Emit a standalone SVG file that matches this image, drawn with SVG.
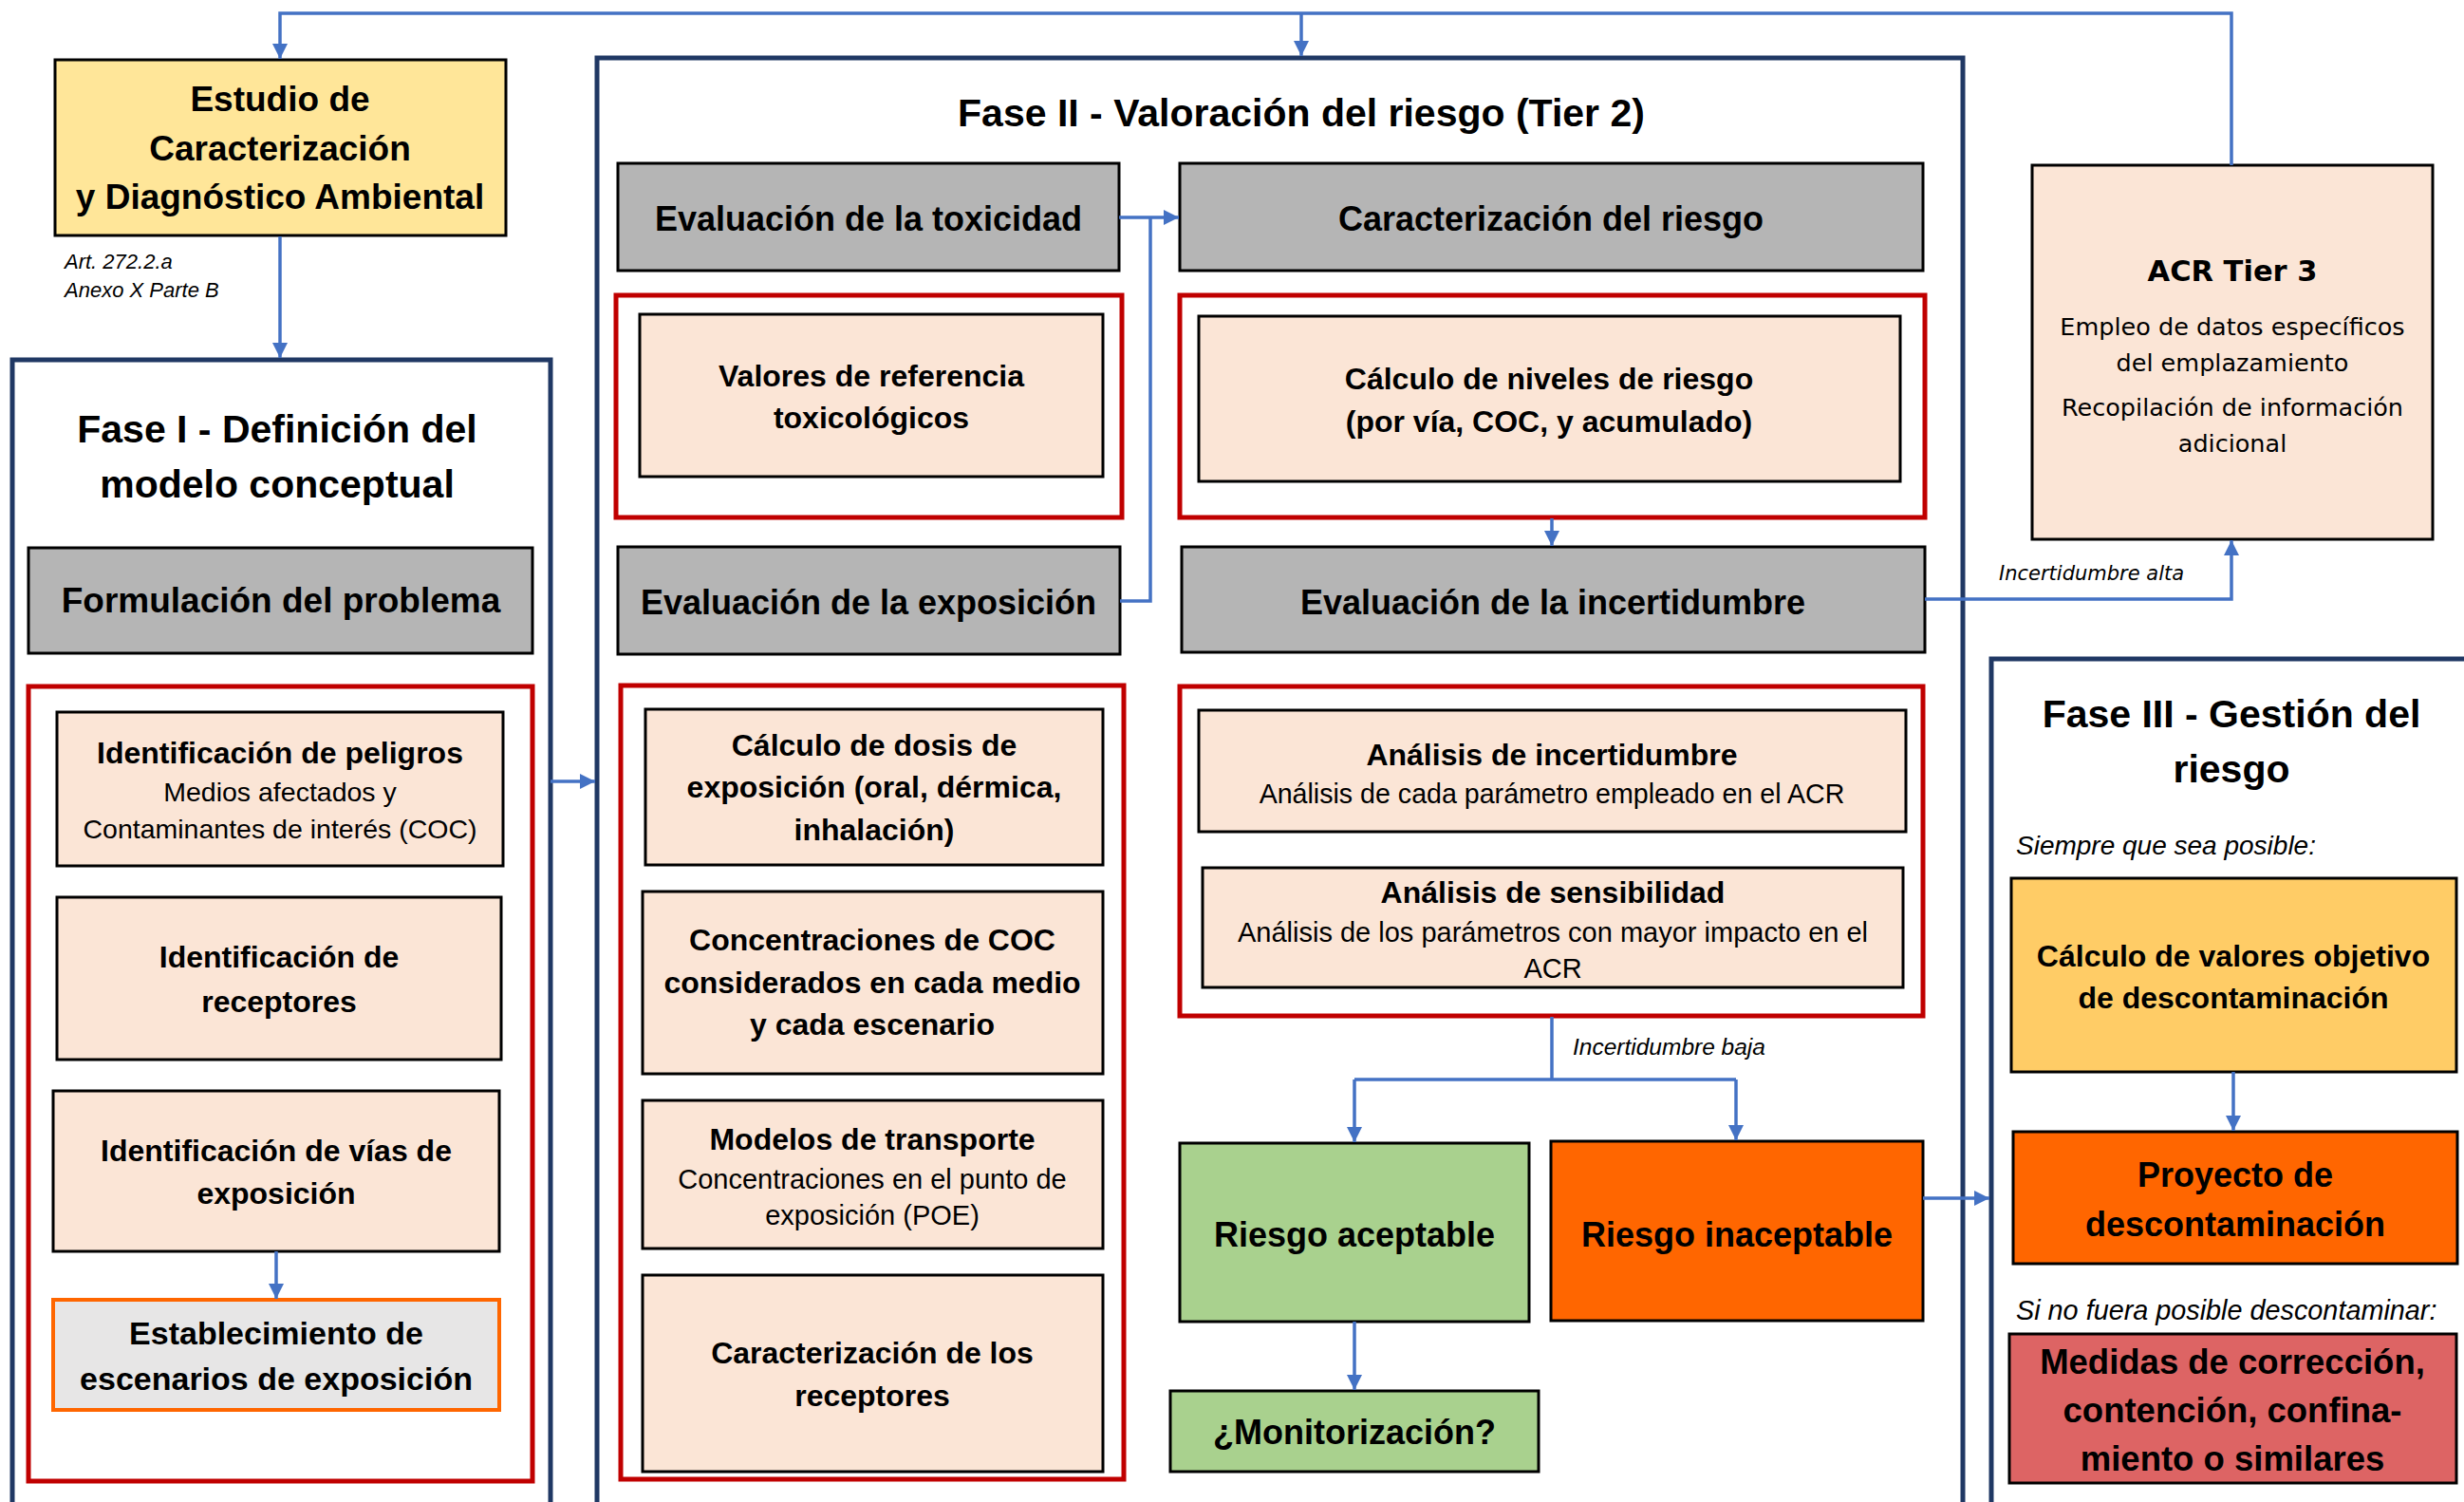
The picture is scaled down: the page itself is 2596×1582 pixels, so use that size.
<svg xmlns="http://www.w3.org/2000/svg" width="2596" height="1582" viewBox="0 0 2596 1582">
<defs>
<style>
.t{font-family:"Liberation Sans",Arial,sans-serif;fill:#000;text-anchor:middle}
.b{font-weight:bold}
.it{font-style:italic}
.v{font-family:"DejaVu Sans",Verdana,sans-serif;fill:#000;text-anchor:middle}
.s{text-anchor:start}
.phase{fill:none;stroke:#203864;stroke-width:5}
.red{fill:none;stroke:#C00000;stroke-width:5}
.box{stroke:#000;stroke-width:3}
.gray{fill:#B5B5B5}
.peach{fill:#FBE5D6}
.con{fill:none;stroke:#4472C4;stroke-width:3.5}
</style>
<marker id="ah" viewBox="0 0 10 10" refX="10" refY="5" markerWidth="16" markerHeight="16" markerUnits="userSpaceOnUse" orient="auto">
<path d="M0,0 L10,5 L0,10 z" fill="#4472C4"/>
</marker>
</defs>
<rect width="2596" height="1582" fill="#fff"/>

<!-- Estudio -->
<g id="estudio">
<rect class="box" x="58" y="63" width="475" height="185" fill="#FFE699"/>
<text class="t b" font-size="37" x="295" y="117">Estudio de</text>
<text class="t b" font-size="37" x="295" y="169">Caracterización</text>
<text class="t b" font-size="37" x="295" y="220">y Diagnóstico Ambiental</text>
</g>
<g id="art-note">
<text class="t it s" font-size="22" x="68" y="283">Art. 272.2.a</text>
<text class="t it s" font-size="22" x="68" y="313">Anexo X Parte B</text>
</g>

<!-- Fase I -->
<g id="fase1">
<rect class="phase" x="13" y="379" width="567" height="1260"/>
<text class="t b" font-size="41" x="292" y="466">Fase I - Definición del</text>
<text class="t b" font-size="41" x="292" y="524">modelo conceptual</text>
</g>
<g id="formulacion">
<rect class="box gray" x="30" y="577" width="531" height="111"/>
<text class="t b" font-size="37" x="296" y="645">Formulación del problema</text>
</g>
<g id="fase1-grupo">
<rect class="red" x="30" y="723" width="531" height="837"/>
</g>
<g id="id-peligros">
<rect class="box peach" x="60" y="750" width="470" height="162"/>
<text class="t b" font-size="32" x="295" y="804">Identificación de peligros</text>
<text class="t" font-size="28.5" x="295" y="844">Medios afectados y</text>
<text class="t" font-size="28.5" x="295" y="883">Contaminantes de interés (COC)</text>
</g>
<g id="id-receptores">
<rect class="box peach" x="60" y="945" width="468" height="171"/>
<text class="t b" font-size="32" x="294" y="1019">Identificación de</text>
<text class="t b" font-size="32" x="294" y="1066">receptores</text>
</g>
<g id="id-vias">
<rect class="box peach" x="56" y="1149" width="470" height="169"/>
<text class="t b" font-size="32" x="291" y="1223">Identificación de vías de</text>
<text class="t b" font-size="32" x="291" y="1268">exposición</text>
</g>
<g id="escenarios">
<rect x="56" y="1369" width="470" height="116" fill="#E7E6E6" stroke="#FF6600" stroke-width="4"/>
<text class="t b" font-size="34" x="291" y="1416">Establecimiento de</text>
<text class="t b" font-size="34" x="291" y="1464">escenarios de exposición</text>
</g>

<!-- Fase II -->
<g id="fase2">
<rect class="phase" x="629" y="61" width="1439" height="1580"/>
<text class="t b" font-size="41" x="1371" y="133">Fase II - Valoración del riesgo (Tier 2)</text>
</g>
<g id="eval-toxicidad">
<rect class="box gray" x="651" y="172" width="528" height="113"/>
<text class="t b" font-size="36" x="915" y="243">Evaluación de la toxicidad</text>
</g>
<g id="toxicidad-grupo">
<rect class="red" x="649" y="311" width="533" height="234"/>
</g>
<g id="valores-ref">
<rect class="box peach" x="674" y="331" width="488" height="171"/>
<text class="t b" font-size="32" x="918" y="407">Valores de referencia</text>
<text class="t b" font-size="32" x="918" y="451">toxicológicos</text>
</g>
<g id="eval-exposicion">
<rect class="box gray" x="651" y="576" width="529" height="113"/>
<text class="t b" font-size="36" x="915" y="647">Evaluación de la exposición</text>
</g>
<g id="exposicion-grupo">
<rect class="red" x="654" y="722" width="530" height="836"/>
</g>
<g id="calculo-dosis">
<rect class="box peach" x="680" y="747" width="482" height="164"/>
<text class="t b" font-size="32" x="921" y="796">Cálculo de dosis de</text>
<text class="t b" font-size="32" x="921" y="840">exposición (oral, dérmica,</text>
<text class="t b" font-size="32" x="921" y="885">inhalación)</text>
</g>
<g id="concentraciones">
<rect class="box peach" x="677" y="939" width="485" height="192"/>
<text class="t b" font-size="32" x="919" y="1001">Concentraciones de COC</text>
<text class="t b" font-size="32" x="919" y="1046">considerados en cada medio</text>
<text class="t b" font-size="32" x="919" y="1090">y cada escenario</text>
</g>
<g id="modelos-transporte">
<rect class="box peach" x="677" y="1159" width="485" height="156"/>
<text class="t b" font-size="32" x="919" y="1211">Modelos de transporte</text>
<text class="t" font-size="29" x="919" y="1252">Concentraciones en el punto de</text>
<text class="t" font-size="29" x="919" y="1290">exposición (POE)</text>
</g>
<g id="caract-receptores">
<rect class="box peach" x="677" y="1343" width="485" height="207"/>
<text class="t b" font-size="32" x="919" y="1436">Caracterización de los</text>
<text class="t b" font-size="32" x="919" y="1481">receptores</text>
</g>
<g id="caract-riesgo">
<rect class="box gray" x="1243" y="172" width="783" height="113"/>
<text class="t b" font-size="36" x="1634" y="243">Caracterización del riesgo</text>
</g>
<g id="riesgo-grupo">
<rect class="red" x="1243" y="311" width="785" height="234"/>
</g>
<g id="calculo-niveles">
<rect class="box peach" x="1263" y="333" width="739" height="174"/>
<text class="t b" font-size="32" x="1632" y="410">Cálculo de niveles de riesgo</text>
<text class="t b" font-size="32" x="1632" y="455">(por vía, COC, y acumulado)</text>
</g>
<g id="eval-incertidumbre">
<rect class="box gray" x="1245" y="576" width="783" height="111"/>
<text class="t b" font-size="36" x="1636" y="647">Evaluación de la incertidumbre</text>
</g>
<g id="incertidumbre-grupo">
<rect class="red" x="1243" y="723" width="783" height="347"/>
</g>
<g id="analisis-incertidumbre">
<rect class="box peach" x="1263" y="748" width="745" height="128"/>
<text class="t b" font-size="32" x="1635" y="806">Análisis de incertidumbre</text>
<text class="t" font-size="28.6" x="1635" y="846">Análisis de cada parámetro empleado en el ACR</text>
</g>
<g id="analisis-sensibilidad">
<rect class="box peach" x="1267" y="914" width="738" height="126"/>
<text class="t b" font-size="32" x="1636" y="951">Análisis de sensibilidad</text>
<text class="t" font-size="29" x="1636" y="992">Análisis de los parámetros con mayor impacto en el</text>
<text class="t" font-size="29" x="1636" y="1030">ACR</text>
</g>
<g id="riesgo-aceptable">
<rect class="box" x="1243" y="1204" width="368" height="188" fill="#A9D18E"/>
<text class="t b" font-size="36" x="1427" y="1313">Riesgo aceptable</text>
</g>
<g id="riesgo-inaceptable">
<rect class="box" x="1634" y="1202" width="392" height="189" fill="#FF6600"/>
<text class="t b" font-size="36" x="1830" y="1313">Riesgo inaceptable</text>
</g>
<g id="monitorizacion">
<rect class="box" x="1233" y="1465" width="388" height="85" fill="#A9D18E"/>
<text class="t b" font-size="36" x="1427" y="1521">¿Monitorización?</text>
</g>

<!-- ACR Tier 3 -->
<g id="acr-tier3">
<rect class="box peach" x="2141" y="174" width="422" height="394"/>
<text class="v b" font-size="30.5" x="2352" y="296">ACR Tier 3</text>
<text class="v" font-size="25.5" x="2352" y="353">Empleo de datos específicos</text>
<text class="v" font-size="25.5" x="2352" y="391">del emplazamiento</text>
<text class="v" font-size="25.5" x="2352" y="438">Recopilación de información</text>
<text class="v" font-size="25.5" x="2352" y="476">adicional</text>
</g>

<!-- Fase III -->
<g id="fase3">
<rect class="phase" x="2098" y="694" width="520" height="950"/>
<text class="t b" font-size="41" x="2351" y="766">Fase III - Gestión del</text>
<text class="t b" font-size="41" x="2351" y="824">riesgo</text>
<text class="t it s" font-size="28" x="2124" y="900">Siempre que sea posible:</text>
<text class="t it s" font-size="28.8" x="2124" y="1390">Si no fuera posible descontaminar:</text>
</g>
<g id="valores-objetivo">
<rect class="box" x="2119" y="925" width="469" height="204" fill="#FFCC66"/>
<text class="t b" font-size="32" x="2353" y="1018">Cálculo de valores objetivo</text>
<text class="t b" font-size="32" x="2353" y="1062">de descontaminación</text>
</g>
<g id="proyecto">
<rect class="box" x="2121" y="1192" width="468" height="139" fill="#FF6600"/>
<text class="t b" font-size="36" x="2355" y="1250">Proyecto de</text>
<text class="t b" font-size="36" x="2355" y="1302">descontaminación</text>
</g>
<g id="medidas">
<rect class="box" x="2117" y="1405" width="471" height="157" fill="#DD6464"/>
<text class="t b" font-size="36.5" x="2352" y="1447">Medidas de corrección,</text>
<text class="t b" font-size="36.5" x="2352" y="1498">contención, confina-</text>
<text class="t b" font-size="36.5" x="2352" y="1549">miento o similares</text>
</g>

<!-- Connectors -->
<g id="connectors">
<path class="con" d="M2351,174 V14 H295 V62" marker-end="url(#ah)"/>
<path class="con" d="M1371,14 V59" marker-end="url(#ah)"/>
<path class="con" d="M295,249 V377" marker-end="url(#ah)"/>
<path class="con" d="M580,823 H627" marker-end="url(#ah)"/>
<path class="con" d="M291,1318 V1368" marker-end="url(#ah)"/>
<path class="con" d="M1179,229 H1242" marker-end="url(#ah)"/>
<path class="con" d="M1180,633 H1212 V229"/>
<path class="con" d="M1635,546 V575" marker-end="url(#ah)"/>
<path class="con" d="M2028,631 H2351 V569" marker-end="url(#ah)"/>
<path class="con" d="M1635,1071 V1137"/>
<path class="con" d="M1427,1137 H1829"/>
<path class="con" d="M1427,1137 V1203" marker-end="url(#ah)"/>
<path class="con" d="M1829,1137 V1201" marker-end="url(#ah)"/>
<path class="con" d="M1427,1392 V1464" marker-end="url(#ah)"/>
<path class="con" d="M2026,1262 H2096" marker-end="url(#ah)"/>
<path class="con" d="M2353,1129 V1191" marker-end="url(#ah)"/>
<text class="t it s" font-size="24.5" x="1657" y="1111">Incertidumbre baja</text>
<text class="v it s" font-size="21" x="2106" y="611">Incertidumbre alta</text>
</g>
</svg>
